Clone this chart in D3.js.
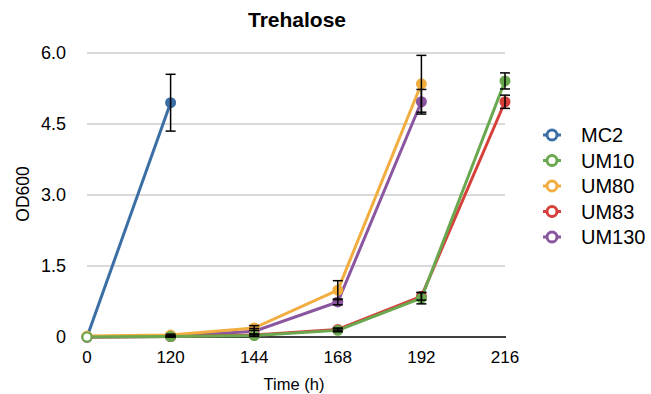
<!DOCTYPE html>
<html>
<head>
<meta charset="utf-8">
<script src="https://cdn.jsdelivr.net/npm/d3@7"></script>
<style>
  body { margin: 0; background: #fff; }
  text { font-family: "Liberation Sans", Arial, sans-serif; fill: #000; }
</style>
</head>
<body>
<div id="chart"></div>
<script>
// datos
const categories = ["0", "120", "144", "168", "192", "216"];
const seriesNames = ["MC2", "UM10", "UM80", "UM83", "UM130"];
const seriesColors = ["#3b6ea5", "#6aa84f", "#f1ad3f", "#d6403a", "#8b56a0"];
const mc2 = [0, 4.95];
const mc2Err = [0, 0.6];
const um10 = [0, 0.01, 0.03, 0.14, 0.82, 5.41];
const um10Err = [0, 0.01, 0.02, 0.03, 0.12, 0.17];
const um80 = [0.02, 0.04, 0.19, 0.99, 5.35];
const um80Err = [0, 0.02, 0.05, 0.2, 0.6];
const um83 = [0, 0.01, 0.04, 0.16, 0.86, 4.97];
const um83Err = [0, 0.01, 0.02, 0.03, 0.08, 0.14];
const um130 = [0, 0.01, 0.12, 0.74, 4.97];
const um130Err = [0, 0.01, 0.06, 0.06, 0.26];
const yTicks = [0, 1.5, 3.0, 4.5, 6.0];
const yTickLabels = ["0", "1.5", "3.0", "4.5", "6.0"];

const values = [mc2, um10, um80, um83, um130];
const errors = [mc2Err, um10Err, um80Err, um83Err, um130Err];
const series = seriesNames.map((n, i) => ({
  name: n, color: seriesColors[i],
  pts: values[i].map((v, j) => ({ cat: categories[j], v, e: errors[i][j], j }))
}));
const drawOrder = [0, 4, 3, 2, 1];

const W = 651, H = 394;
const svg = d3.select('#chart').append('svg').attr('width', W).attr('height', H);

const x = d3.scalePoint().domain(categories).range([87, 505]);
const y = d3.scaleLinear().domain([0, 6]).range([337, 53]);

// rejilla
svg.append('g').selectAll('line').data(yTicks.slice(1)).join('line')
  .attr('x1', 87).attr('x2', 505)
  .attr('y1', d => y(d)).attr('y2', d => y(d))
  .attr('stroke', '#b4b4b4').attr('stroke-width', 1.2);
svg.append('line').attr('x1', 87).attr('x2', 506).attr('y1', y(0)).attr('y2', y(0))
  .attr('stroke', '#000').attr('stroke-width', 1.5);

// etiquetas de ejes
svg.append('g').selectAll('text').data(yTicks).join('text')
  .attr('x', 66).attr('y', d => y(d)).attr('dy', '0.36em')
  .attr('text-anchor', 'end').attr('font-size', 18)
  .text((d, i) => yTickLabels[i]);
svg.append('g').selectAll('text').data(categories).join('text')
  .attr('x', d => x(d)).attr('y', 363)
  .attr('text-anchor', 'middle').attr('font-size', 17)
  .text(d => d);

svg.append('text').attr('x', 294).attr('y', 390).attr('text-anchor', 'middle')
  .attr('font-size', 16.5).text('Time (h)');
svg.append('text').attr('transform', 'translate(29,194) rotate(-90)')
  .attr('text-anchor', 'middle').attr('font-size', 17.5).text('OD600');
svg.append('text').attr('x', 297).attr('y', 27).attr('text-anchor', 'middle')
  .attr('font-size', 21).attr('font-weight', 'bold').text('Trehalose');

// líneas
const line = d3.line().x(d => x(d.cat)).y(d => y(d.v));
const g = svg.append('g');
drawOrder.forEach(i => {
  const s = series[i];
  g.append('path').datum(s.pts).attr('d', line)
    .attr('fill', 'none').attr('stroke', s.color).attr('stroke-width', 3)
    .attr('stroke-linejoin', 'round');
});
drawOrder.forEach(i => {
  const s = series[i];
  g.append('g').selectAll('circle').data(s.pts).join('circle')
    .attr('cx', d => x(d.cat)).attr('cy', d => y(d.v)).attr('r', 4.5)
    .attr('fill', d => d.j === 0 ? '#fff' : s.color)
    .attr('stroke', s.color).attr('stroke-width', 2);
});
// barras de error
drawOrder.forEach(i => {
  const s = series[i];
  const eb = g.append('g').selectAll('g').data(s.pts.filter(d => d.e > 0)).join('g')
    .attr('stroke', '#000').attr('stroke-width', 1.5);
  eb.append('line').attr('x1', d => x(d.cat)).attr('x2', d => x(d.cat))
    .attr('y1', d => y(d.v + d.e)).attr('y2', d => y(d.v - d.e));
  eb.append('line').attr('x1', d => x(d.cat) - 5).attr('x2', d => x(d.cat) + 5)
    .attr('y1', d => y(d.v + d.e)).attr('y2', d => y(d.v + d.e));
  eb.append('line').attr('x1', d => x(d.cat) - 5).attr('x2', d => x(d.cat) + 5)
    .attr('y1', d => y(d.v - d.e)).attr('y2', d => y(d.v - d.e));
});

// leyenda
const leg = svg.append('g').selectAll('g').data(series).join('g')
  .attr('transform', (d, i) => `translate(552,${135 + i * 25.5})`);
leg.append('line').attr('x1', -9).attr('x2', 9).attr('stroke', d => d.color).attr('stroke-width', 3);
leg.append('circle').attr('r', 5).attr('fill', '#fff')
  .attr('stroke', d => d.color).attr('stroke-width', 3);
leg.append('text').attr('x', 29).attr('dy', '0.36em').attr('font-size', 20)
  .text(d => d.name);
</script>
</body>
</html>
